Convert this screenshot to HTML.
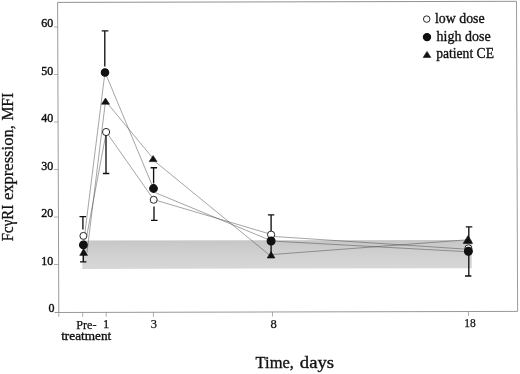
<!DOCTYPE html>
<html><head><meta charset="utf-8"><title>FcγRI expression</title>
<style>
html,body{margin:0;padding:0;background:#fff;}
svg{display:block;}
text{font-family:"Liberation Serif",serif;fill:#111;}
</style></head>
<body>
<svg width="520" height="374" viewBox="0 0 520 374">
<rect width="520" height="374" fill="#fff"/>
<!-- reference band -->
<defs><linearGradient id="bg" x1="0" y1="0" x2="0" y2="1"><stop offset="0" stop-color="#c6c6c6"/><stop offset="0.4" stop-color="#cfcfcf"/><stop offset="1" stop-color="#d7d7d7"/></linearGradient></defs>
<path d="M82.3 240.4L471.8 239.9V268.2L82.3 268.9Z" fill="url(#bg)"/>
<!-- frame -->
<g fill="none" stroke="#888" stroke-width="1">
<path d="M58.8 312.5L57.6 2.4" stroke="#9a9a9a"/><path d="M57.6 2.4L516.5 1.3" stroke="#929292"/><path d="M516.5 1.3L517.6 311.4" stroke="#9c9c9c"/>
<path d="M54.5 312.5L517.6 311.4" stroke="#8c8c8c" stroke-width="0.9"/>
<path d="M54 27H58M54 74.5H58M54 122H58M54 169.5H58M54 217H58M54 264.5H58.5" stroke="#999" stroke-width="0.8"/>
<path d="M58.8 312V316.8M82.7 312V316.8M106.2 312V316.8M153.4 312V316.8M272.5 312V316.5M468.5 311.5V316" stroke="#999" stroke-width="0.8"/>
</g>
<!-- series lines -->
<g fill="none" stroke="#4a4a4a" stroke-width="0.5">
<polyline points="86.8,235.6 106.3,132 153.7,199.6 271.3,234.4"/>
<polyline points="83.4,244.9 105,72.2 153.5,188.5"/>
<polyline points="87,252.3 105.5,101 153.1,158.5"/>
<path d="M153.1 159.9L271.1 256.4M153.5 191.9L271.1 240.7"/>
<path d="M271.3 236.3L468.4 249.3M271.3 241L468.4 251.8M271.3 254.6L468.4 239.7"/>
</g>
<!-- error bars -->
<g fill="none" stroke="#111" stroke-width="1.35">
<path d="M82.9 229.5V216.6M79.5 216.6H86"/>
<path d="M83.3 255V261.8M80 261.8H86.4"/>
<path d="M104.8 66.5V30.9M101.7 30.9H108.4"/>
<path d="M106 135V173.5M102.9 173.5H109.3"/>
<path d="M153.6 183.5V167.7M150.6 167.7H157.1"/>
<path d="M154 206.5V220.3M151 220.3H157.6"/>
<path d="M271.1 231V214.8M267.9 214.8H274.3"/>
<path d="M271.1 243V254"/>
<path d="M468.8 240V226.8M465.8 226.8H472.3"/>
<path d="M468.8 254V276M465 276H471.4"/>
</g>
<!-- markers -->
<g stroke="#111" stroke-width="1.2">
<!-- Pre -->
<circle cx="83.4" cy="235.9" r="3.5" fill="#fff" stroke-width="0.9"/>
<circle cx="83.4" cy="244.9" r="3.8" fill="#111"/>
<path d="M83.6 248.6L87.6 255.4H79.7Z" fill="#111" stroke-width="0.5"/>
<!-- day 1 -->
<circle cx="105" cy="72.5" r="3.7" fill="#111"/>
<path d="M105.5 98L109.5 104.2H101.5Z" fill="#111" stroke-width="0.6"/>
<circle cx="106.1" cy="132" r="3.6" fill="#fff" stroke-width="0.9"/>
<!-- day 3 -->
<path d="M153.1 155.6L157 161.6H149.2Z" fill="#111" stroke-width="0.6"/>
<circle cx="153.5" cy="188.5" r="3.8" fill="#111"/>
<circle cx="153.7" cy="199.8" r="3.5" fill="#fff" stroke-width="0.9"/>
<!-- day 8 -->
<path d="M271.1 251.6L274.9 258H267.2Z" fill="#111" stroke-width="0.6"/>
<circle cx="271.1" cy="234.7" r="3.6" fill="#fff" stroke-width="0.9"/>
<circle cx="271.1" cy="241" r="3.9" fill="#111"/>
<!-- day 18 -->
<circle cx="468.4" cy="248.3" r="3.5" fill="#fff" stroke-width="0.9"/>
<circle cx="468.4" cy="251.3" r="3.9" fill="#111"/>
<path d="M468.1 235.4L472.6 243.4H463.2Z" fill="#111" stroke-width="0.6"/>
<!-- legend -->
<circle cx="426.7" cy="19.1" r="3.25" fill="#fff" stroke-width="0.9"/>
<circle cx="427" cy="37.1" r="3.6" fill="#111"/>
<path d="M427 51.4L430.8 57.4H423.2Z" fill="#111" stroke-width="0.6"/>
</g>
<!-- legend text -->
<g font-size="14.5" stroke="#111" stroke-width="0.35">
<text x="435" y="22.9" textLength="49.6" lengthAdjust="spacingAndGlyphs">low dose</text>
<text x="436.6" y="40.7" textLength="54" lengthAdjust="spacingAndGlyphs">high dose</text>
<text x="436.2" y="57.6" textLength="57.8" lengthAdjust="spacingAndGlyphs">patient CE</text>
</g>
<!-- y labels -->
<g font-size="12" text-anchor="end" stroke="#111" stroke-width="0.4">
<text x="53.2" y="27.3">60</text>
<text x="53.2" y="74.8">50</text>
<text x="53.2" y="122.3">40</text>
<text x="53.2" y="169.8">30</text>
<text x="53.2" y="217.3">20</text>
<text x="53.2" y="264.8">10</text>
<text x="54.6" y="311.5">0</text>
</g>
<!-- x labels -->
<g font-size="12.5" text-anchor="middle" stroke="#111" stroke-width="0.25">
<text x="86.3" y="328.5" textLength="20.3" lengthAdjust="spacingAndGlyphs">Pre-</text>
<text x="86.2" y="340.1" textLength="50" lengthAdjust="spacingAndGlyphs" stroke-width="0.35">treatment</text>
<text x="106.2" y="328.3">1</text>
<text x="153.9" y="328.1">3</text>
<text x="273.6" y="328.3">8</text>
<text x="469.9" y="327.2" textLength="11.5" lengthAdjust="spacingAndGlyphs">18</text>
</g>
<!-- axis titles -->
<g font-size="17.6" stroke="#111" stroke-width="0.35">
<text x="255.6" y="368.3" textLength="38.4" lengthAdjust="spacingAndGlyphs">Time,</text>
<text x="299.8" y="368.3" textLength="34.2" lengthAdjust="spacingAndGlyphs">days</text>
</g>
<g font-size="16" stroke="#111" stroke-width="0.3">
<text transform="translate(12.6 241.2) rotate(-90)" textLength="36.3" lengthAdjust="spacingAndGlyphs">FcγRI</text>
<text transform="translate(12.6 200) rotate(-90)" textLength="74.8" lengthAdjust="spacingAndGlyphs">expression,</text>
<text transform="translate(12.6 120.6) rotate(-90)" textLength="27.9" lengthAdjust="spacingAndGlyphs">MFI</text>
</g>
</svg>
</body></html>
